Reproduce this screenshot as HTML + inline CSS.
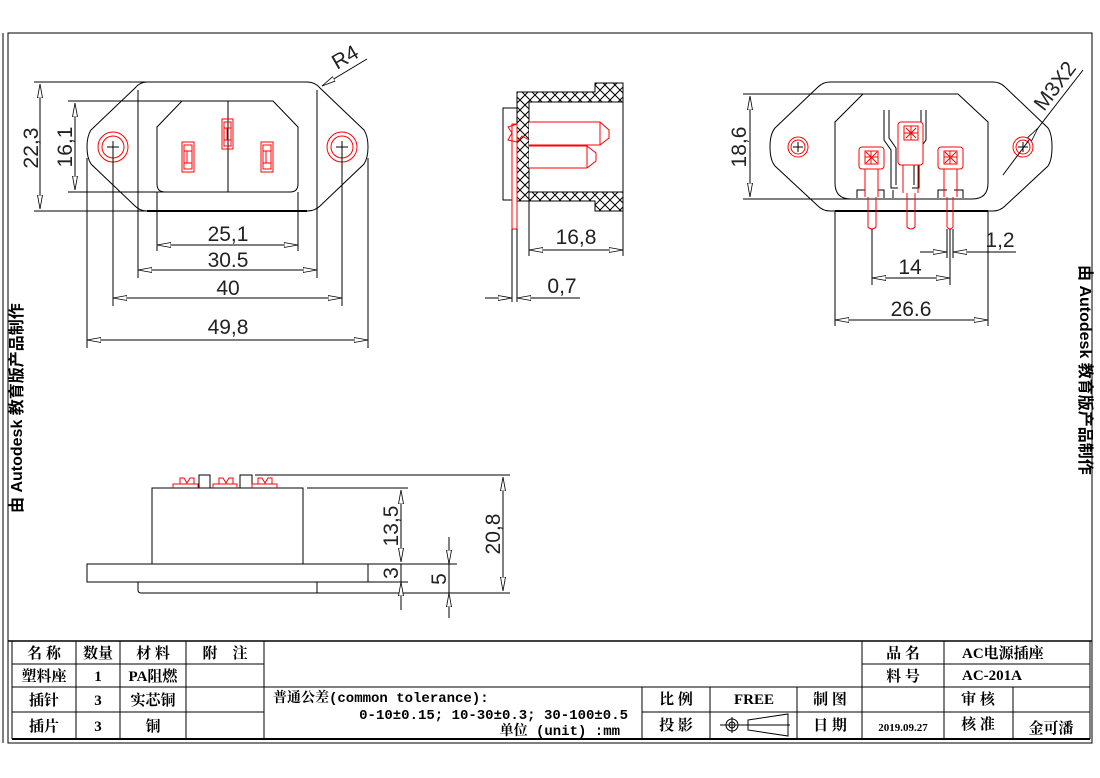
<!DOCTYPE html>
<html><head><meta charset="utf-8"><style>
html,body{margin:0;padding:0;background:#fff;}
svg{display:block;}
.k{stroke:#000;stroke-width:1;fill:none;}
.kb{stroke:#000;stroke-width:2;fill:none;}
.r{stroke:#f00;stroke-width:1;fill:none;}
.d{font-family:"Liberation Sans",sans-serif;font-size:21px;fill:#222;}
.t{font-family:"Liberation Serif","Noto Serif CJK SC",serif;font-weight:bold;font-size:15px;fill:#000;}
.m{font-family:"Liberation Mono","Noto Serif CJK SC",monospace;font-weight:bold;font-size:14px;fill:#000;}
.w{font-family:"Liberation Sans","Noto Sans CJK SC",sans-serif;font-weight:bold;font-size:16px;fill:#000;}
</style></head><body>
<svg width="1100" height="778" viewBox="0 0 1100 778" xmlns="http://www.w3.org/2000/svg">
<defs>
<marker id="a" viewBox="0 0 14 6" refX="14" refY="3" markerWidth="14" markerHeight="6" markerUnits="userSpaceOnUse" orient="auto-start-reverse"><path d="M0,0.5 L14,3 L0,5.5 Z" fill="#fff" stroke="#000" stroke-width="0.8"/></marker>
<pattern id="h" width="10" height="10" patternUnits="userSpaceOnUse"><path d="M0,0L10,10M10,0L0,10" stroke="#000" stroke-width="1"/></pattern>
</defs>
<rect x="0" y="0" width="1100" height="778" fill="#fff"/>
<rect x="8" y="33" width="1084" height="710" class="k"/>
<line x1="3" y1="33" x2="3" y2="743" class="k"/>

<text class="w" transform="translate(22,513) rotate(-90)">由 Autodesk 教育版产品制作</text>
<text class="w" transform="translate(1080,265) rotate(90)">由 Autodesk 教育版产品制作</text>

<!-- FRONT VIEW -->
<path class="k" d="M147,82 L307,82 Q315,82 320,88 L364,130 Q368,136 368,147 Q368,158 364,164 L320,206 Q315,211 307,211 L147,211 Q140,211 135,206 L91,164 Q87,158 87,147 Q87,136 91,130 L135,88 Q140,82 147,82 Z"/>
<path class="k" d="M138,90 L138,203 M317,90 L317,203"/>
<path class="kb" d="M147,211 L307,211"/>
<path class="k" d="M182,101 L273,101 L298,127 L298,184 Q298,192 290,192 L165,192 Q157,192 157,184 L157,127 Z"/>
<line x1="228" y1="101" x2="228" y2="192" class="k"/>
<g class="r">
<rect x="222" y="119" width="11" height="30"/><rect x="224" y="122" width="7" height="24"/><path d="M224,128 L231,128 M224,140 L231,140 M227,128 L227,140"/>
<rect x="182" y="142" width="12" height="30"/><rect x="184" y="145" width="8" height="24"/><path d="M184,151 L192,151 M184,163 L192,163 M187,151 L187,163"/>
<rect x="261" y="142" width="12" height="30"/><rect x="263" y="145" width="8" height="24"/><path d="M263,151 L271,151 M263,163 L271,163 M266,151 L266,163"/>
<circle cx="113" cy="147" r="15"/><circle cx="113" cy="147" r="11"/>
<circle cx="342" cy="147" r="15"/><circle cx="342" cy="147" r="11"/>
</g>
<path class="k" d="M107,147 L119,147 M113,141 L113,153 M336,147 L348,147 M342,141 L342,153"/>
<path class="k" d="M34,82 L147,82 M34,211 L147,211 M68,101 L182,101 M68,192 L182,192"/>
<line x1="40" y1="84" x2="40" y2="209" class="k" marker-start="url(#a)" marker-end="url(#a)"/>
<line x1="75" y1="103" x2="75" y2="190" class="k" marker-start="url(#a)" marker-end="url(#a)"/>
<text class="d" transform="translate(38,148) rotate(-90)" text-anchor="middle">22,3</text>
<text class="d" transform="translate(72,147) rotate(-90)" text-anchor="middle">16,1</text>
<path class="k" d="M157,192 L157,251 M298,192 L298,251 M138,203 L138,278 M317,203 L317,278 M113,153 L113,306 M342,153 L342,306 M87,158 L87,348 M368,158 L368,348"/>
<line x1="157" y1="245" x2="298" y2="245" class="k" marker-start="url(#a)" marker-end="url(#a)"/>
<line x1="138" y1="270" x2="317" y2="270" class="k" marker-start="url(#a)" marker-end="url(#a)"/>
<line x1="113" y1="298" x2="342" y2="298" class="k" marker-start="url(#a)" marker-end="url(#a)"/>
<line x1="87" y1="340" x2="368" y2="340" class="k" marker-start="url(#a)" marker-end="url(#a)"/>
<text class="d" x="228" y="241" text-anchor="middle">25,1</text>
<text class="d" x="228" y="267" text-anchor="middle">30.5</text>
<text class="d" x="228" y="295" text-anchor="middle">40</text>
<text class="d" x="228" y="334" text-anchor="middle">49,8</text>
<line x1="367" y1="59" x2="322" y2="86" class="k" marker-end="url(#a)"/>
<text class="d" transform="translate(337,70) rotate(-30)">R4</text>

<!-- SIDE VIEW -->
<path d="M517,92 L595,92 L595,83 L623,83 L623,102 L529,102 L529,192 L623,192 L623,211 L595,211 L595,201 L517,201 Z" fill="url(#h)" stroke="#000" stroke-width="1"/>
<rect x="529" y="102" width="94" height="90" fill="#fff" stroke="#000"/>
<rect x="503" y="108" width="14" height="92" fill="#fff" stroke="#000"/>
<g class="r">
<rect x="512" y="124" width="5" height="105" fill="#fff"/>
<path d="M529,122 L600,122 L609,130 L609,138 L600,145 L529,145" fill="#fff"/>
<line x1="600" y1="122" x2="600" y2="145"/>
<path d="M529,146 L587,146 L596,153 L596,161 L587,168 L529,168" fill="#fff"/>
<line x1="587" y1="146" x2="587" y2="168"/>
<path d="M517,124 L508,127 L512,133 L508,140 L517,142 L522,136 L529,140"/>
</g>
<path class="k" d="M529,192 L529,256 M623,211 L623,256 M512,229 L512,302 M517,229 L517,302"/>
<line x1="529" y1="250" x2="623" y2="250" class="k" marker-start="url(#a)" marker-end="url(#a)"/>
<text class="d" x="576" y="244" text-anchor="middle">16,8</text>
<line x1="485" y1="298" x2="512" y2="298" class="k" marker-end="url(#a)"/>
<line x1="580" y1="298" x2="517" y2="298" class="k" marker-end="url(#a)"/>
<text class="d" x="562" y="293" text-anchor="middle">0,7</text>

<!-- RIGHT VIEW -->
<path class="k" d="M830,82 L993,82 Q1000,82 1005,87 L1048,128 Q1052,134 1052,147 Q1052,160 1048,166 L1005,206 Q1000,211 993,211 L830,211 Q823,211 818,206 L775,166 Q770,160 770,147 Q770,134 775,128 L818,87 Q823,82 830,82 Z"/>
<path class="k" d="M863,94 L958,94 L988,122 L988,183 Q988,199 972,199 L851,199 Q835,199 835,183 L835,122 Z"/>
<path class="kb" d="M835,211 L988,211"/>
<path class="k" d="M884,110 L884,140 L891,150 L891,188 L898,188 M926,110 L926,140 L919,150 L919,188 L912,188 M889,110 L889,138 L896,148 L896,185 M921,110 L921,138 L914,148 L914,185"/>
<path class="k" d="M857,198 L857,190 L865,190 M878,190 L884,190 L884,198 M938,198 L938,190 L947,190 M954,190 L963,190 L963,198 M893,198 L893,190"/>
<g class="r">
<rect x="898" y="122" width="25" height="43" rx="3" fill="#fff"/>
<rect x="904" y="126" width="14" height="14" /><path d="M904,133 L918,133 M911,126 L911,140 M906,128 L916,138 M916,128 L906,138"/>
<path d="M903,165 L903,193 M918,165 L918,193 M907,193 L907,227 Q911,231 915,227 L915,193" fill="none"/>
<rect x="859" y="147" width="25" height="22" rx="3" fill="#fff"/>
<rect x="865" y="151" width="13" height="13"/><path d="M865,157 L878,157 M871,151 L871,164 M866,152 L877,163 M877,152 L866,163"/>
<path d="M865,169 L865,197 M878,169 L878,197 M868,197 L868,227 Q872,231 876,227 L876,197" fill="none"/>
<rect x="938" y="147" width="25" height="22" rx="3" fill="#fff"/>
<rect x="944" y="151" width="13" height="13"/><path d="M944,157 L957,157 M950,151 L950,164 M945,152 L956,163 M956,152 L945,163"/>
<path d="M944,169 L944,197 M957,169 L957,197 M947,197 L947,227 Q950,231 953,227 L953,197" fill="none"/>
<circle cx="798" cy="147" r="10"/><circle cx="798" cy="147" r="7"/>
<circle cx="1023" cy="147" r="10"/><circle cx="1023" cy="147" r="7"/>
</g>
<path class="k" d="M793,147 L803,147 M798,142 L798,152 M1018,147 L1028,147 M1023,142 L1023,152"/>
<path class="k" d="M743,94 L863,94 M743,199 L851,199"/>
<line x1="750" y1="96" x2="750" y2="197" class="k" marker-start="url(#a)" marker-end="url(#a)"/>
<text class="d" transform="translate(746,147) rotate(-90)" text-anchor="middle">18,6</text>
<path class="k" d="M872,229 L872,285 M950,229 L950,285 M947,229 L947,258 M953,229 L953,258 M835,211 L835,326 M988,211 L988,326"/>
<line x1="872" y1="278" x2="950" y2="278" class="k" marker-start="url(#a)" marker-end="url(#a)"/>
<text class="d" x="910" y="274" text-anchor="middle">14</text>
<line x1="920" y1="252" x2="947" y2="252" class="k" marker-end="url(#a)"/>
<line x1="1016" y1="252" x2="953" y2="252" class="k" marker-end="url(#a)"/>
<text class="d" x="1000" y="247" text-anchor="middle">1,2</text>
<line x1="835" y1="320" x2="988" y2="320" class="k" marker-start="url(#a)" marker-end="url(#a)"/>
<text class="d" x="911" y="316" text-anchor="middle">26.6</text>
<line x1="1003" y1="175" x2="1038" y2="128" class="k" marker-end="url(#a)"/>
<line x1="1038" y1="128" x2="1083" y2="70" class="k"/>
<text class="d" transform="translate(1044,112) rotate(-53)">M3X2</text>

<!-- BOTTOM VIEW -->
<rect x="152" y="488" width="151" height="76" class="k"/>
<rect x="87" y="564" width="281" height="18" class="k"/>
<path class="k" d="M138,582 L138,590 Q138,593 141,593 L317,593 L317,582"/>
<rect x="199" y="475" width="11" height="13" class="k"/>
<rect x="240" y="475" width="12" height="13" class="k"/>
<g class="r">
<path d="M173,488 L173,484 L198,484 L198,488 M180,484 L180,478 L184,478 L187,483 L190,478 L194,478 L194,484"/>
<path d="M213,488 L213,484 L237,484 L237,488 M219,484 L219,478 L223,478 L226,483 L229,478 L233,478 L233,484"/>
<path d="M252,488 L252,484 L277,484 L277,488 M258,484 L258,478 L262,478 L265,483 L268,478 L272,478 L272,484"/>
</g>
<path class="k" d="M255,475 L510,475 M307,488 L408,488 M303,564 L457,564 M368,582 L408,582 M317,593 L510,593"/>
<line x1="401" y1="490" x2="401" y2="562" class="k" marker-start="url(#a)" marker-end="url(#a)"/>
<text class="d" transform="translate(398,526) rotate(-90)" text-anchor="middle">13,5</text>
<line x1="401" y1="564" x2="401" y2="582" class="k"/>
<line x1="401" y1="610" x2="401" y2="582" class="k" marker-end="url(#a)"/>
<text class="d" transform="translate(398,573) rotate(-90)" text-anchor="middle">3</text>
<line x1="449" y1="537" x2="449" y2="564" class="k" marker-end="url(#a)"/>
<line x1="449" y1="618" x2="449" y2="593" class="k" marker-end="url(#a)"/>
<line x1="449" y1="564" x2="449" y2="593" class="k"/>
<text class="d" transform="translate(446,579) rotate(-90)" text-anchor="middle">5</text>
<line x1="503" y1="477" x2="503" y2="591" class="k" marker-start="url(#a)" marker-end="url(#a)"/>
<text class="d" transform="translate(500,534) rotate(-90)" text-anchor="middle">20,8</text>

<!-- TITLE BLOCK -->
<g stroke="#000" fill="none">
<line x1="8" y1="641" x2="1092" y2="641" stroke-width="1.5"/>
<line x1="12" y1="739" x2="1090" y2="739" stroke-width="2"/>
<line x1="12" y1="641" x2="12" y2="739"/>
<line x1="1090" y1="641" x2="1090" y2="739"/>
<line x1="12" y1="664" x2="264" y2="664"/>
<line x1="12" y1="687" x2="1090" y2="687"/>
<line x1="12" y1="712" x2="264" y2="712"/>
<line x1="642" y1="712" x2="1090" y2="712"/>
<line x1="862" y1="664" x2="1090" y2="664"/>
<line x1="76" y1="641" x2="76" y2="739"/>
<line x1="120" y1="641" x2="120" y2="739"/>
<line x1="186" y1="641" x2="186" y2="739"/>
<line x1="264" y1="641" x2="264" y2="739"/>
<line x1="642" y1="687" x2="642" y2="739"/>
<line x1="710" y1="687" x2="710" y2="739"/>
<line x1="797" y1="687" x2="797" y2="739"/>
<line x1="862" y1="641" x2="862" y2="739"/>
<line x1="944" y1="641" x2="944" y2="739"/>
<line x1="1013" y1="687" x2="1013" y2="739"/>
</g>
<g class="t" text-anchor="middle">
<text x="44" y="658">名 称</text><text x="98" y="658">数量</text><text x="153" y="658">材 料</text><text x="225" y="658">附　注</text>
<text x="44" y="681">塑料座</text><text x="98" y="681">1</text><text x="153" y="681">PA阻燃</text>
<text x="44" y="705">插针</text><text x="98" y="705">3</text><text x="153" y="705">实芯铜</text>
<text x="44" y="731">插片</text><text x="98" y="731">3</text><text x="153" y="731">铜</text>
<text x="676" y="704">比 例</text><text x="754" y="704">FREE</text><text x="830" y="704">制 图</text><text x="978" y="704">审 核</text>
<text x="676" y="730">投 影</text><text x="830" y="730">日 期</text><text x="903" y="731" style="font-size:11px">2019.09.27</text><text x="978" y="729">核 准</text><text x="1051" y="733">金可潘</text>
<text x="903" y="658">品 名</text><text x="903" y="681">料 号</text>
</g>
<text class="t" x="962" y="658">AC电源插座</text>
<text class="t" x="962" y="680">AC-201A</text>
<text class="m" x="273" y="702">普通公差(common tolerance):</text>
<text class="m" x="628" y="719" text-anchor="end">0-10±0.15; 10-30±0.3; 30-100±0.5</text>
<text class="m" x="620" y="735" text-anchor="end">单位 (unit) :mm</text>
<g class="k">
<circle cx="732" cy="725" r="6"/><circle cx="732" cy="725" r="3"/>
<path d="M720,725 L790,725 M732,717 L732,733 M748,720 L788,714 L788,736 L748,730 Z"/>
</g>
</svg>
</body></html>
